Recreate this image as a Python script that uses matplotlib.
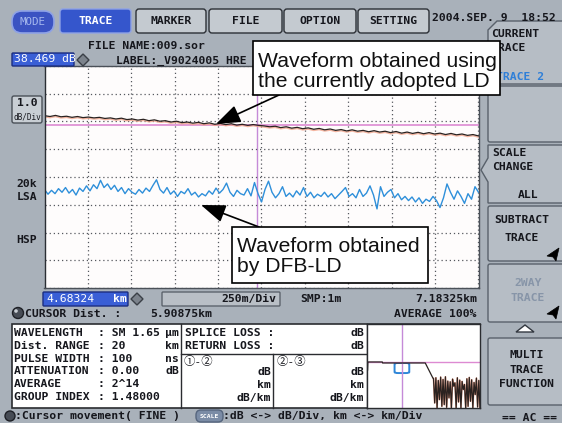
import numpy as np
import matplotlib
matplotlib.use("Agg")
import matplotlib.pyplot as plt
from matplotlib.patches import Rectangle, FancyBboxPatch, Polygon, Circle, FancyArrowPatch
import matplotlib.transforms as mtransforms

dist_start = 4.68324          # km, left edge of trace window
dist_end = 7.18325            # km, right edge
cursor_km = 5.90875
km_per_div = 0.25
n_ydiv = 8                    # 1.0 dB/Div
marker_level = 5.89           # pink horizontal marker (div from bottom)

# trace 1: currently adopted LD (dB, relative, 1 div = 1 dB)
black_trace = [
    6.21, 6.18, 6.22, 6.17, 6.19, 6.15, 6.18, 6.14, 6.16, 6.13,
    6.15, 6.11, 6.13, 6.09, 6.12, 6.07, 6.09, 6.05, 6.08, 6.03,
    6.06, 6.01, 6.03, 5.98, 6.01, 5.96, 5.98, 5.94, 5.97, 5.92,
    5.95, 5.90, 5.93, 5.89, 5.92, 5.87, 5.90, 5.86, 5.89, 5.86,
    5.84, 5.81, 5.83, 5.78, 5.81, 5.76, 5.79, 5.74, 5.77, 5.72,
    5.75, 5.70, 5.73, 5.68, 5.71, 5.66, 5.70, 5.65, 5.68, 5.63,
    5.67, 5.62, 5.65, 5.60, 5.64, 5.58, 5.62, 5.57, 5.61, 5.56,
    5.60, 5.55, 5.58, 5.53, 5.57, 5.52, 5.55, 5.50, 5.53, 5.48,
]

# trace 2: DFB-LD
blue_trace = [
    3.55, 3.38, 3.52, 3.40, 3.58, 3.45, 3.62, 3.42, 3.55, 3.35, 3.60, 3.48, 3.68, 3.50, 3.72, 3.58,
    3.88, 3.62, 3.75, 3.55, 3.70, 3.48, 3.62, 3.40, 3.58, 3.45, 3.38, 3.55, 3.42, 3.60, 3.48, 3.70,
    3.90, 3.55, 3.42, 3.62, 3.38, 3.50, 3.30, 3.48, 3.40, 3.58, 3.35, 3.45, 3.28, 3.40, 3.32, 3.50,
    3.38, 3.60, 3.42, 3.55, 3.78, 3.45, 3.30, 3.52, 3.40, 3.35, 3.58, 3.32, 3.80, 3.40, 3.10, 3.55,
    3.85, 3.45, 3.25, 3.40, 3.65, 3.30, 3.42, 3.28, 3.50, 3.35, 3.62, 3.30, 3.45, 3.25, 3.38, 3.30,
    3.45, 3.28, 3.40, 3.22, 3.35, 3.48, 3.62, 3.30, 3.40, 3.25, 3.55, 3.30, 3.42, 3.68, 3.35, 2.85,
    3.65, 3.30, 3.45, 3.55, 3.25, 3.40, 3.18, 3.30, 3.15, 3.28, 3.10, 3.25, 3.05, 3.20, 3.12, 3.30,
    3.15, 2.90, 3.25, 3.75, 3.45, 3.20, 3.50, 3.30, 3.05, 3.40, 3.20, 3.65, 3.45,
]

# overview (whole fibre) in the small window
mini_km = [0.1, 0.15, 2.6, 2.65, 9.9, 11.2]
mini_db = [23.3, 25.7, 25.7, 25.4, 25.4, 20.9]
mini_noise = [20.8, 13.5, 21.0, 12.0, 20.2, 14.5, 21.2, 12.5, 20.5, 13.0,
              21.3, 12.2, 20.0, 15.0, 19.8, 12.0, 20.6, 18.5, 19.5, 12.0,
              21.0, 13.8, 20.3, 12.0, 19.9, 17.5, 19.0, 12.0, 20.7, 12.5,
              21.1, 14.0, 20.4, 12.0, 19.6, 16.0, 20.9, 12.3, 20.2, 12.0]
mini_noise_range = (11.3, 19.2)
mini_marker_db = 25.7
mini_window_db = (22.4, 25.4)

tabs = ["TRACE", "MARKER", "FILE", "OPTION", "SETTING"]
info_labels = ["WAVELENGTH", "Dist. RANGE", "PULSE WIDTH", "ATTENUATION", "AVERAGE", "GROUP INDEX"]
info_values = ["SM 1.65", "20", "100", "0.00", "2^14", "1.48000"]
info_units = ["µm", "km", "ns", "dB", "", ""]

# ---- style ----
W, H = 562, 423
BG = "#a9b1ba"
BTN = "#b6bdc5"
EDGE = "#59616b"
DARK = "#16171d"
BLUE = "#3556cc"
MONO = ["DejaVu Sans Mono", "Noto Sans CJK JP"]
SANS = ["Liberation Sans", "DejaVu Sans"]

fig = plt.figure(figsize=(W / 100, H / 100), dpi=100, facecolor=BG)

# main trace axes
ax = fig.add_axes([44.5 / W, 1 - 288 / H, 434 / W, 222 / H])
ax.set_facecolor("#fefcfc")
dist_black = np.linspace(dist_start, dist_end, len(black_trace))
dist_blue = np.linspace(dist_start, dist_end, len(blue_trace))
shift = mtransforms.offset_copy(ax.transData, fig=fig, x=0, y=-1.2, units="dots")
ax.plot(dist_black, black_trace, color="#f2a48a", lw=1.0, alpha=0.8, transform=shift)
ax.plot(dist_black, black_trace, color="#2a2220", lw=0.9)
ax.plot(dist_blue, blue_trace, color="#2e8fda", lw=1.0)
ax.axhline(marker_level, color="#dd8ad2", lw=1.2, zorder=1)
ax.axvline(cursor_km, color="#c58ad8", lw=1.0, zorder=1)
ax.set_xlim(dist_start, dist_end)
ax.set_ylim(0, n_ydiv)
ax.set_xticks(dist_start + km_per_div * np.arange(11))
ax.set_yticks(np.arange(n_ydiv + 1))
ax.tick_params(length=0, labelbottom=False, labelleft=False)
ax.grid(True, color="#55585e", lw=0.9, linestyle=(0, (1, 2.3)))
for s in ax.spines.values():
    s.set_color("#4a5058")
    s.set_linewidth(1.0)
ax.spines["left"].set_color("#2a2e34")

# overlay in pixel coordinates
ui = fig.add_axes([0, 0, 1, 1])
ui.set_xlim(0, W)
ui.set_ylim(H, 0)
ui.axis("off")
ui.patch.set_alpha(0)
ui.set_zorder(5)


def t(x, y, s, size=8.2, color=DARK, ha="left", weight="bold", family=MONO, **kw):
    ui.text(x, y, s, fontsize=size, color=color, ha=ha, va="center",
            fontweight=weight, family=family, **kw)


def box(x0, y0, x1, y1, face=BTN, edge=EDGE, r=2, lw=1.0, z=1):
    ui.add_patch(FancyBboxPatch((x0, y0), x1 - x0, y1 - y0,
                                boxstyle=f"round,pad=0,rounding_size={r}",
                                fc=face, ec=edge, lw=lw, zorder=z))


# top bar
box(12, 11, 54, 33, face="#3b53c2", edge="#8ea2e6", r=10, lw=1.2)
t(33, 22, "MODE", color="#a6b8ee", ha="center", weight="normal", size=7.8)
tab_x = [(60, 131), (136, 206), (209, 282), (284, 356), (358, 429)]
for name, (x0, x1) in zip(tabs, tab_x):
    sel = name == "TRACE"
    box(x0, 9, x1, 33, face=BLUE if sel else "#c4cad0", edge="#8ea2e6" if sel else "#2c3036", r=3)
    t((x0 + x1) / 2, 21, name, color="white" if sel else DARK, ha="center")
t(432, 18, "2004.SEP. 9  18:52")

# file line
t(88, 46, "FILE NAME:009.sor")
box(12, 53, 74, 66, face="#3a5fd6", edge="#1c2e80", r=1)
t(14, 59.5, "38.469 dB", color="white", weight="normal")
ui.add_patch(Polygon([(77, 60), (83, 54), (89, 60), (83, 66)], fc="#7c838c", ec="#3a3f46", lw=1))
t(116, 61, "LABEL:_V9024005 HRE")

# left scale labels
box(12, 96, 42, 123, face="#c8ced4", edge="#4a5058", r=2)
t(27, 103, "1.0", ha="center")
t(27, 117, "dB/Div", ha="center", size=5.6, weight="normal")
t(27, 184, "20k", ha="center")
t(27, 197, "LSA", ha="center")
t(27, 240, "HSP", ha="center")

# right soft keys
ui.add_patch(Polygon([(488, 84), (488, 30), (497, 21), (566, 21), (566, 84)], fc=BTN, ec=EDGE, lw=1))
t(491, 34, "CURRENT")
t(491, 48, "TRACE")
t(496, 77, "TRACE 2", color="#2f7fd8")
box(488, 86, 566, 142)
ui.add_patch(Polygon([(488, 145), (566, 145), (566, 203), (488, 203), (488, 182), (481, 170), (488, 158)],
                     fc=BTN, ec=EDGE, lw=1))
t(492, 153, "SCALE")
t(492, 167, "CHANGE")
t(528, 195, "ALL", ha="center")
box(488, 206, 566, 261)
t(522, 220, "SUBTRACT", ha="center")
t(522, 238, "TRACE", ha="center")
box(488, 264, 566, 322)
t(528, 283, "2WAY", ha="center", color="#8795a8")
t(528, 298, "TRACE", ha="center", color="#8795a8")
for yo in (0, 58):
    ui.add_patch(Polygon([(547, 256 + yo), (559, 248 + yo), (556, 261 + yo), (553, 257 + yo)], fc="black", ec="black", lw=0.5))
ui.add_patch(Polygon([(516, 332), (534, 332), (525, 325)], fc="white", ec="#333840", lw=1))
box(488, 338, 566, 405)
t(527, 355, "MULTI", ha="center")
t(527, 370, "TRACE", ha="center")
t(527, 384, "FUNCTION", ha="center")
t(530, 418, "== AC ==", ha="center")

# readouts under the trace
box(43, 292, 128, 306, face="#3a5fd6", edge="#1c2e80", r=1)
t(46, 299, "4.68324", color="white", weight="normal")
t(113, 299, "km", color="white")
ui.add_patch(Polygon([(131, 299), (137, 293), (143, 299), (137, 305)], fc="#7c838c", ec="#3a3f46", lw=1))
box(162, 292, 280, 306, face="#b9bfc6", edge="#5d646d", r=1)
t(276, 299, "250m/Div", ha="right")
t(300, 299, "SMP:1m")
t(477, 299, "7.18325km", ha="right")
ui.add_patch(Circle((18, 313), 5.5, fc="#474c55", ec="#1e2026", lw=1))
ui.add_patch(Circle((16, 311), 1.8, fc="#c9ced4", ec="none"))
t(25, 314, "CURSOR Dist. :")
t(150, 314, "5.90875km")
t(477, 314, "AVERAGE 100%", ha="right")

# info panel
ui.add_patch(Rectangle((12, 324), 468, 84, fc="white", ec="#2a2c30", lw=1.2))
for x in (181, 367):
    ui.plot([x, x], [324, 408], color="#2a2c30", lw=1)
ui.plot([181, 367], [354, 354], color="#2a2c30", lw=1)
ui.plot([273, 273], [354, 408], color="#2a2c30", lw=1)
rows = [333, 346, 358.5, 371, 384, 396.5]
for y, lab, val, unit in zip(rows, info_labels, info_values, info_units):
    t(14, y, lab)
    t(98, y, ": " + val)
    if unit:
        t(179, y, unit, ha="right")
t(185, 333, "SPLICE LOSS :")
t(364, 333, "dB", ha="right")
t(185, 346, "RETURN LOSS :")
t(364, 346, "dB", ha="right")
t(184, 361, "①-②", weight="normal")
t(277, 361, "②-③", weight="normal")
for xr in (271, 364):
    t(xr, 372, "dB", ha="right")
    t(xr, 385, "km", ha="right")
    t(xr, 398, "dB/km", ha="right")

# status bar
ui.add_patch(Circle((10, 416), 5, fc="#474c55", ec="#1e2026", lw=1))
t(15, 416, ":Cursor movement( FINE )")
box(196, 410, 223, 422, face="#7b8ca6", edge="#56667e", r=5)
t(209.5, 416, "SCALE", ha="center", color="white", size=4.6)
t(223, 416, ":dB <-> dB/Div, km <-> km/Div")

# callouts
for (x0, y0, x1, y1), lines, baselines, tail, tip in [
    ((253, 41, 500, 95), ["Waveform obtained using", "the currently adopted LD"], (66.7, 86.7), (279, 95), (216, 124)),
    ((232, 227, 428, 283), ["Waveform obtained", "by DFB-LD"], (252, 272), (259, 227), (201, 205)),
]:
    ui.add_patch(FancyArrowPatch(tail, tip, arrowstyle="-|>,head_length=1.5,head_width=0.55",
                                 mutation_scale=10, lw=1.2, color="black", shrinkA=0, shrinkB=0, zorder=2))
    ui.add_patch(Rectangle((x0, y0), x1 - x0, y1 - y0, fc="white", ec="black", lw=1.2, zorder=3))
    for s, yb in zip(lines, baselines):
        ui.text(x0 + 5, yb, s, fontsize=15.2, family=SANS, color="#111111",
                ha="left", va="baseline", zorder=4)

# overview window
mini = fig.add_axes([367 / W, 1 - 408 / H, 113 / W, 84 / H])
mini.set_zorder(6)
mini.set_facecolor("white")
mini.axhline(mini_marker_db, color="#dd8ad2", lw=1.0)
mini.axvline(cursor_km, color="#c58ad8", lw=1.0)
noise_km = np.linspace(mini_noise_range[0], mini_noise_range[1], len(mini_noise))
mini.plot(noise_km, mini_noise, color="#f2a48a", lw=1.2)
mini.plot(mini_km + list(noise_km), mini_db + mini_noise, color="#2a2220", lw=0.9)
mini.add_patch(FancyBboxPatch((dist_start, mini_window_db[0]), dist_end - dist_start,
                              mini_window_db[1] - mini_window_db[0],
                              boxstyle="round,pad=0,rounding_size=0.6", mutation_aspect=0.5,
                              fc="none", ec="#2f86d8", lw=1.4))
mini.set_xlim(0, 19.2)
mini.set_ylim(12, 37)
mini.set_xticks([])
mini.set_yticks([])
for s in mini.spines.values():
    s.set_color("#2a2c30")
    s.set_linewidth(1.0)

fig.savefig("out.png", dpi=100, facecolor=BG)
